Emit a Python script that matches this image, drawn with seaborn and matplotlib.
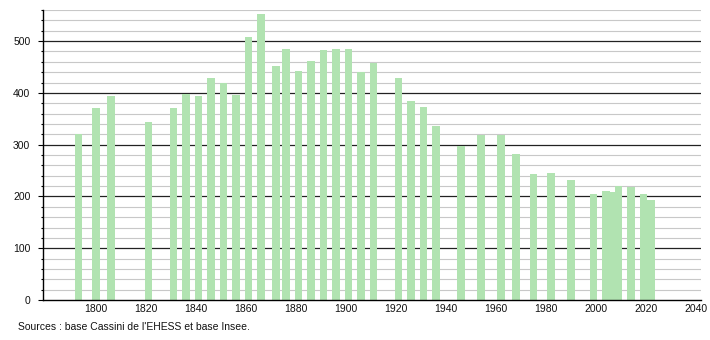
import matplotlib
matplotlib.use("Agg")
import matplotlib.pyplot as plt
import seaborn as sns
import pandas as pd
import numpy as np
from matplotlib.ticker import MultipleLocator

years = [1793, 1800, 1806, 1821, 1831, 1836, 1841, 1846, 1851, 1856,
         1861, 1866, 1872, 1876, 1881, 1886, 1891, 1896, 1901, 1906,
         1911, 1921, 1926, 1931, 1936, 1946, 1954, 1962, 1968, 1975,
         1982, 1990, 1999, 2004, 2007, 2009, 2014, 2019, 2022]
population = [320, 371, 394, 343, 371, 398, 394, 429, 420, 396,
              508, 552, 452, 485, 442, 462, 483, 485, 485, 440,
              458, 429, 384, 373, 336, 297, 319, 319, 281, 243,
              245, 231, 204, 211, 208, 220, 218, 205, 194]
x_ticks = [1800, 1820, 1840, 1860, 1880, 1900, 1920, 1940, 1960, 1980, 2000, 2020, 2040]
y_ticks = [0, 100, 200, 300, 400, 500]
source_text = "Sources : base Cassini de l'EHESS et base Insee."

sns.set_theme(style="white")
plt.rcParams['font.family'] = ['Liberation Sans', 'DejaVu Sans']

df = pd.DataFrame({"year": years, "pop": population})

fig = plt.figure(figsize=(7.1, 3.4), dpi=100)
ax = fig.add_axes([43/710, 1 - 300/340, (701 - 43)/710, (300 - 10)/340])

min_gap = np.min(np.diff(sorted(years)))
sns.barplot(data=df, x="year", y="pop", native_scale=True, orient="x",
            color="#b1e3b1", saturation=1, width=3.07 / min_gap,
            errorbar=None, linewidth=0, edgecolor="none", ax=ax)

ax.set_xlim(1778.8, 2042)
ax.set_ylim(0, 560)
ax.set_axisbelow(True)

# gridlines: light every 20, dark every 100
for v in range(20, 561, 20):
    if v % 100 == 0:
        ax.axhline(v, color="#222222", lw=0.9, zorder=0)
    else:
        ax.axhline(v, color="#c8c8c8", lw=0.8, zorder=0)

ax.set_yticks(y_ticks)
ax.yaxis.set_minor_locator(MultipleLocator(20))
ax.set_xticks(x_ticks)
ax.set_xticklabels([str(t) for t in x_ticks])
ax.tick_params(axis="y", which="major", length=3.6, width=0.8, color="black",
               labelsize=7.5, labelcolor="#111111", pad=5.5, left=True, direction="out")
ax.tick_params(axis="y", which="minor", length=1.8, width=0.8, color="black",
               left=True, direction="out")
ax.tick_params(axis="x", length=0, labelsize=7.5, labelcolor="#111111", pad=3)

for s in ["top", "right"]:
    ax.spines[s].set_visible(False)
for s in ["left", "bottom"]:
    ax.spines[s].set_visible(True)
    ax.spines[s].set_color("black")
    ax.spines[s].set_linewidth(1.0)

ax.set_xlabel("")
ax.set_ylabel("")

fig.text(18/710, 1 - 327/340, source_text, fontsize=7.5, color="#111111",
         ha="left", va="center")

fig.savefig("out.png", dpi=100)
